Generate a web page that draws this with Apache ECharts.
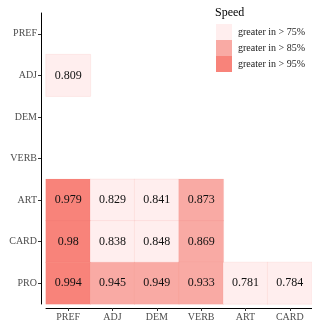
<!DOCTYPE html>
<html>
<head>
<meta charset="utf-8">
<script src="https://cdn.jsdelivr.net/npm/echarts@6/dist/echarts.min.js"></script>
<style>
  html, body { margin: 0; padding: 0; background: #fff; }
  #main { width: 312px; height: 325px; }
</style>
</head>
<body>
<div id="main"></div>
<script>
  // categories
  var xCats = ['PREF', 'ADJ', 'DEM', 'VERB', 'ART', 'CARD'];
  var yCats = ['PREF', 'ADJ', 'DEM', 'VERB', 'ART', 'CARD', 'PRO'];
  // values per row (x category, value)
  var rowADJ = [['PREF', 0.809]];
  var rowART = [['PREF', 0.979], ['ADJ', 0.829], ['DEM', 0.841], ['VERB', 0.873]];
  var rowCARD = [['PREF', 0.98], ['ADJ', 0.838], ['DEM', 0.848], ['VERB', 0.869]];
  var rowPRO = [['PREF', 0.994], ['ADJ', 0.945], ['DEM', 0.949], ['VERB', 0.933], ['ART', 0.781], ['CARD', 0.784]];
  var legendLabels = ['greater in > 75%', 'greater in > 85%', 'greater in > 95%'];

  var cells = [];
  function addRow(name, row) {
    row.forEach(function (r) {
      cells.push([xCats.indexOf(r[0]), yCats.indexOf(name), r[1]]);
    });
  }
  addRow('ADJ', rowADJ);
  addRow('ART', rowART);
  addRow('CARD', rowCARD);
  addRow('PRO', rowPRO);

  var serif = 'Liberation Serif';
  var chart = echarts.init(document.getElementById('main'));
  chart.setOption({
    animation: false,
    title: {
      text: 'Speed',
      left: 210,
      top: 2,
      textStyle: { fontFamily: serif, fontSize: 12, fontWeight: 'normal', color: '#000' }
    },
    grid: { left: 46, right: -3, top: 13, bottom: 21 },
    xAxis: {
      type: 'category',
      data: xCats,
      offset: 4,
      axisLine: { lineStyle: { color: '#000', width: 1 } },
      axisTick: { show: true, alignWithLabel: true, length: 3, lineStyle: { color: '#333', width: 1 } },
      axisLabel: { fontFamily: serif, fontSize: 10, color: '#4d4d4d', margin: 4 },
      splitArea: { show: false }
    },
    yAxis: {
      type: 'category',
      data: yCats,
      inverse: true,
      offset: 5,
      axisLine: { lineStyle: { color: '#000', width: 1 } },
      axisTick: { show: true, alignWithLabel: true, length: 3, lineStyle: { color: '#333', width: 1 } },
      axisLabel: { fontFamily: serif, fontSize: 10, color: '#4d4d4d', margin: 4 }
    },
    visualMap: {
      type: 'piecewise',
      dimension: 2,
      left: 201,
      top: 9,
      orient: 'vertical',
      inverse: true,
      itemWidth: 16,
      itemHeight: 16,
      itemGap: 0,
      itemSymbol: 'rect',
      textGap: 6,
      align: 'left',
      textStyle: { fontFamily: serif, fontSize: 10, color: '#222' },
      pieces: [
        { gte: 0.75, lt: 0.85, label: legendLabels[0], color: '#FFEEEE' },
        { gte: 0.85, lt: 0.95, label: legendLabels[1], color: '#F9AAA4' },
        { gte: 0.95, label: legendLabels[2], color: '#F8837A' }
      ],
      selectedMode: false
    },
    series: [{
      type: 'heatmap',
      data: cells,
      itemStyle: { borderColor: 'rgba(230,110,100,0.2)', borderWidth: 0.5 },
      label: {
        show: true,
        fontFamily: serif,
        fontSize: 12,
        color: '#111',
        formatter: function (p) { return String(p.value[2]); }
      }
    }]
  });
</script>
</body>
</html>
